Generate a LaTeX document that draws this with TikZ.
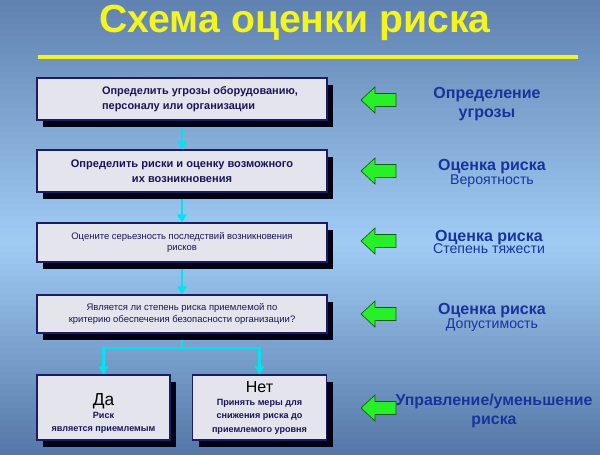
\documentclass[tikz,border=0pt]{standalone}
\usepackage{fontspec}
\setmainfont{Liberation Sans}
\usepackage{xcolor}
\usepackage{tikz}
\usetikzlibrary{arrows.meta,shadows,backgrounds,positioning}

\definecolor{bgtop}{RGB}{96,130,176}
\definecolor{bgmid}{RGB}{160,204,244}
\definecolor{bgbot}{RGB}{84,118,166}
\definecolor{titleyellow}{RGB}{244,244,32}
\definecolor{boxfill}{RGB}{228,228,236}
\definecolor{boxedge}{RGB}{28,28,100}
\definecolor{boxtext}{RGB}{22,22,88}
\definecolor{flowcyan}{RGB}{0,228,240}
\definecolor{arrowgreen}{RGB}{40,240,40}
\definecolor{arrowedge}{RGB}{20,90,20}
\definecolor{labelblue}{RGB}{24,52,156}

\begin{document}
\begin{tikzpicture}[x=0.75pt,y=-0.75pt,
		stepbox/.style={draw=boxedge, fill=boxfill, line width=0.8pt, minimum width=217.5pt,
			align=center, text=boxtext, inner sep=0pt,
			general shadow={fill=black!92!blue, shadow xshift=4.5pt, shadow yshift=-5pt}},
		answerbox/.style={stepbox, minimum width=100.5pt, minimum height=48.75pt},
		flow/.style={draw=flowcyan, line width=2pt, -{Triangle[width=7pt,length=6pt]}},
		riskarrow/.style={draw=arrowedge, fill=arrowgreen, line width=0.5pt},
		sidelabel/.style={align=center, text=labelblue}]
	\useasboundingbox (0,0) rectangle (600,454);
	
	% title
	\node[text=titleyellow, font=\bfseries\fontsize{29.4}{32}\selectfont] (title) at (295,23) {Схема оценки риска};
	\draw[titleyellow, line width=3pt] (38,57) -- (578,57);
	
	% steps
	\node[stepbox, minimum height=31.5pt, font=\bfseries\fontsize{8.2}{11.2}\selectfont, align=left] (b1) at (182,99)
	{\hspace*{27pt}Определить угрозы оборудованию,\\\hspace*{27pt}персоналу или организации};
	\node[stepbox, minimum height=31.5pt, font=\bfseries\fontsize{8.3}{11.5}\selectfont] (b2) at (182,171)
	{Определить риски и оценку возможного\\их возникновения};
	\node[stepbox, minimum height=29.25pt, font=\fontsize{7.1}{8.5}\selectfont] (b3) at (182,242.5)
	{Оцените серьезность последствий возникновения\\рисков};
	\node[stepbox, minimum height=28.5pt, font=\fontsize{7.1}{9}\selectfont] (b4) at (182,314)
	{Является ли степень риска приемлемой по\\критерию обеспечения безопасности организации?};
	\node[answerbox, minimum width=99.75pt, font=\bfseries\fontsize{6.8}{9.8}\selectfont] (b5) at (103.5,407.5)
	{{\mdseries\color{black}\fontsize{13}{13}\selectfont\rule{0pt}{18pt}Да}\\Риск\\является приемлемым};
	\node[answerbox, font=\bfseries\fontsize{6.8}{10}\selectfont] (b6) at (259.5,407.5)
	{{\mdseries\color{black}\fontsize{12}{11}\selectfont Нет}\\Принять меры для\\снижения риска до\\приемлемого уровня};
	\coordinate (fork) at (182,348);
	
	\begin{scope}[on background layer]
		% background, in stripes
		\foreach \i [evaluate=\i as \yy using \i*6,
		             evaluate=\i as \t using {(\i*6<240) ? (\i*6/240*100) : ((454-\i*6)/214*100)}] in {0,...,75} {
			\ifdim\yy pt<240pt \colorlet{stripe}{bgmid!\t!bgtop}\else\colorlet{stripe}{bgmid!\t!bgbot}\fi
			\fill[stripe] (0,\yy) rectangle (600,\yy+6.6);
		}
		\draw[flow] (b1) -- (b2);
		\draw[flow] (b2) -- (b3);
		\draw[flow] (b3) -- (b4);
		\draw[flow] (b4) -- (fork) -| (b5);
		\draw[flow] (fork) -| (b6);
	\end{scope}
	
	% green arrows
	\foreach \y in {100,171,241,314,408}
	\draw[riskarrow] (361,\y) -- ++(14,-13) -- ++(0,6.5) -- ++(21,0) -- ++(0,13) -- ++(-21,0) -- ++(0,6.5) -- cycle;
	
	% labels on the right
	\node[sidelabel, font=\bfseries\fontsize{12}{14}\selectfont] (l1) at (487,104) {Определение\\угрозы};
	\node[sidelabel] (l2) at (492,173) {{\bfseries\fontsize{12}{12}\selectfont Оценка риска}\\[-1.5pt]{\fontsize{10.6}{11}\selectfont Вероятность}};
	\node[sidelabel] (l3) at (489,242) {{\bfseries\fontsize{12}{12}\selectfont Оценка риска}\\[-2.5pt]{\fontsize{10.6}{11}\selectfont Степень тяжести}};
	\node[sidelabel] (l4) at (492,317) {{\bfseries\fontsize{12}{12}\selectfont Оценка риска}\\[-1.5pt]{\fontsize{10.6}{11}\selectfont Допустимость}};
	\node[sidelabel, font=\bfseries\fontsize{11.9}{14}\selectfont] (l5) at (494,411) {Управление/уменьшение\\риска};
	
\end{tikzpicture}
\end{document}
